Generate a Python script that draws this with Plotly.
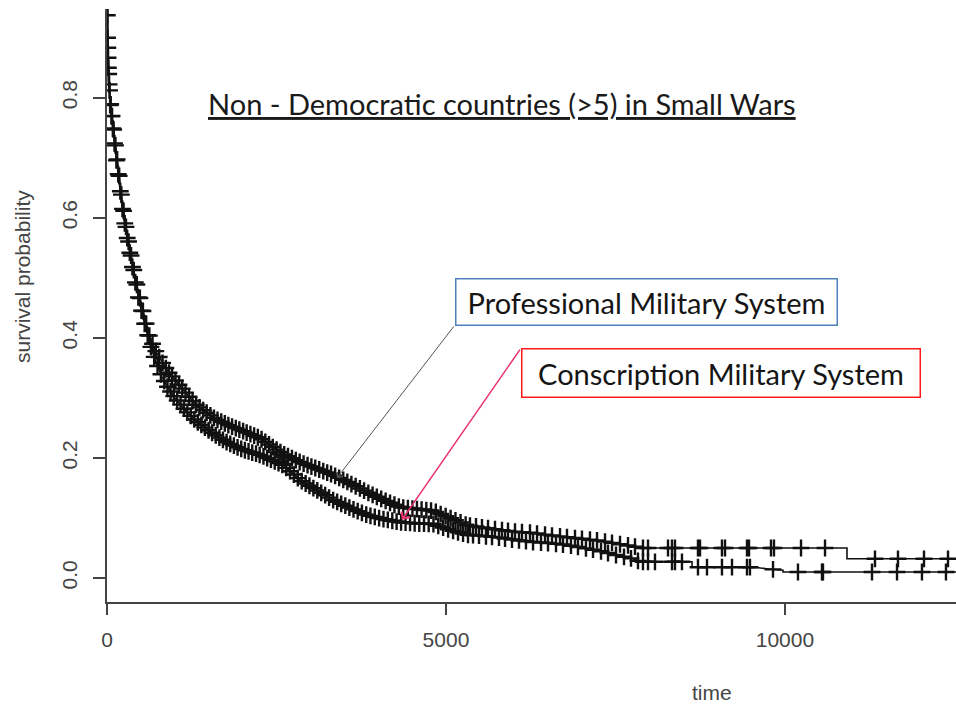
import numpy as np
import plotly.graph_objects as go

# ---------------- data ----------------
# Kaplan-Meier curves: vertices (time, survival probability); repeated times are vertical steps
prof_t = [0, 8, 20, 44, 90, 133, 180, 221, 280, 339, 400, 457, 540, 634, 720, 811, 900, 1003, 1150,
          1298, 1450, 1600, 1785, 2000, 2257, 2420, 2596, 2720, 2847, 3100, 3334, 3580, 3835, 4080,
          4322, 4560, 4808, 5060, 5310, 5550, 5797, 6040, 6283, 6540, 6785, 7030, 7272, 7520, 7758,
          7862, 10915, 10915, 12600]
prof_s = [1.0, 0.90, 0.85, 0.80, 0.755, 0.713, 0.67, 0.63, 0.585, 0.547, 0.51, 0.48, 0.44, 0.40, 0.378,
          0.36, 0.344, 0.33, 0.31, 0.29, 0.277, 0.265, 0.255, 0.245, 0.233, 0.22, 0.207, 0.20, 0.193,
          0.182, 0.172, 0.158, 0.143, 0.13, 0.118, 0.115, 0.112, 0.10, 0.088, 0.084, 0.08, 0.077,
          0.075, 0.071, 0.068, 0.065, 0.062, 0.057, 0.053, 0.05, 0.05, 0.032, 0.032]

cons_t = [0, 8, 20, 44, 90, 133, 180, 221, 280, 339, 400, 457, 540, 634, 720, 811, 900, 1003, 1150,
          1298, 1450, 1600, 1785, 2000, 2257, 2420, 2596, 2720, 2847, 3100, 3334, 3580, 3835, 4080,
          4322, 4560, 4808, 5060, 5310, 5550, 5797, 6040, 6283, 6540, 6785, 7030, 7272, 7520, 7758,
          7862, 8629, 8629, 9558, 9750, 9971, 9971, 12600]
cons_s = [1.0, 0.90, 0.85, 0.79, 0.745, 0.70, 0.66, 0.62, 0.578, 0.54, 0.503, 0.47, 0.43, 0.39, 0.36,
          0.335, 0.317, 0.30, 0.28, 0.263, 0.25, 0.238, 0.225, 0.214, 0.205, 0.197, 0.188, 0.176,
          0.163, 0.146, 0.13, 0.117, 0.105, 0.098, 0.093, 0.091, 0.09, 0.08, 0.072, 0.07, 0.067,
          0.063, 0.06, 0.058, 0.055, 0.05, 0.045, 0.038, 0.032, 0.027, 0.027, 0.018, 0.018, 0.015,
          0.013, 0.01, 0.01]

# censoring times ("+" marks)
prof_cens = [3, 8, 16, 25, 38, 55, 75, 98, 125, 150, 180, 212, 245, 280, 318, 355, 395, 440, 485, 530,
             578, 625, 672, 720, 770, 820,
             868, 915, 960, 1010, 1062, 1110, 1158, 1210, 1262, 1315, 1365, 1418, 1470, 1525, 1578,
             1630, 1685, 1738, 1790, 1845, 1900, 1952, 2008, 2060, 2115, 2170, 2225, 2280, 2335,
             2390, 2445, 2502, 2558, 2614, 2670, 2728, 2785, 2842, 2900, 2958, 3015, 3072, 3130,
             3190, 3248, 3305, 3365, 3425, 3485, 3545, 3605, 3668, 3730, 3792, 3855, 3918, 3980,
             4045, 4110, 4175, 4240, 4305, 4370, 4438, 4505, 4572, 4640, 4710, 4780, 4850, 4922,
             4995, 5068, 5140, 5215, 5290,
             5354, 5443, 5531, 5620, 5723, 5826, 5915, 6018, 6121, 6239, 6343, 6461, 6564, 6682,
             6785, 6903, 7006, 7124, 7228, 7346, 7449, 7567, 7685, 7788,
             7906, 7980, 8275, 8334, 8378, 8717, 8747, 9071, 9116, 9440, 9470, 9794, 9838,
             10237, 10591, 11328, 11667, 12051, 12405]

cons_cens = [5, 12, 20, 31, 46, 65, 86, 110, 138, 165, 196, 228, 262, 298, 336, 375, 418, 462, 508,
             555, 600, 648, 696, 745, 795, 845,
             892, 938, 985, 1035, 1085, 1135, 1185, 1236, 1288, 1340, 1392, 1444, 1498, 1550, 1604,
             1658, 1710, 1764, 1818, 1872, 1926, 1980, 2034, 2088, 2142, 2198, 2252, 2308, 2362,
             2418, 2474, 2530, 2586, 2642, 2700, 2756, 2814, 2872, 2930, 2986, 3044, 3102, 3160,
             3218, 3276, 3336, 3395, 3455, 3515, 3575, 3636, 3698, 3760, 3824, 3886, 3950, 4014,
             4078, 4142, 4208, 4272, 4338, 4404, 4470, 4538, 4606, 4676, 4745, 4815, 4886, 4958,
             5032, 5105, 5178, 5252, 5325,
             5399, 5487, 5590, 5679, 5782, 5871, 5974, 6077, 6180, 6284, 6402, 6505, 6623, 6726,
             6844, 6947, 7065, 7169, 7287, 7390, 7508, 7626, 7729, 7832,
             7906, 7980, 8083, 8334, 8378, 8481, 8717, 8850, 9071, 9219, 9440, 9484, 9824,
             10192, 10546, 10561, 11284, 11653, 12021, 12375]

x_ticks = [0, 5000, 10000]
x_tick_text = ["0", "5000", "10000"]
y_ticks = [0.0, 0.2, 0.4, 0.6, 0.8]
y_tick_text = ["0.0", "0.2", "0.4", "0.6", "0.8"]

title_text = "Non - Democratic countries (>5) in Small Wars"
prof_label = "Professional Military System"
cons_label = "Conscription Military System"

# ---------------- layout geometry ----------------
W, H = 956, 704
ML, MR, MT, MB = 107, 0, 9, 102
X_RANGE = [0, 12523]
Y_RANGE = [-0.04, 0.948]


def px_x(px):
    return (px - ML) / (W - ML - MR)


def px_y(py):
    return (H - MB - py) / (H - MB - MT)


def curve_value(ts, ss, q):
    # value of the drawn curve at the censoring times
    ts = np.asarray(ts, dtype=float)
    ss = np.asarray(ss, dtype=float)
    q = np.asarray(q, dtype=float)
    idx = np.searchsorted(ts, q, side="right") - 1
    idx = np.clip(idx, 0, len(ts) - 2)
    t0, t1 = ts[idx], ts[idx + 1]
    s0, s1 = ss[idx], ss[idx + 1]
    frac = np.where(t1 > t0, (q - t0) / np.where(t1 > t0, t1 - t0, 1), 0.0)
    return s0 + frac * (s1 - s0)


fig = go.Figure()
for ts, ss, cens in [(prof_t, prof_s, prof_cens), (cons_t, cons_s, cons_cens)]:
    fig.add_trace(go.Scatter(x=ts, y=ss, mode="lines", line=dict(color="#111111", width=1.6),
                             showlegend=False, hoverinfo="skip"))
    fig.add_trace(go.Scatter(x=cens, y=curve_value(ts, ss, cens), mode="markers",
                             marker=dict(symbol="cross-thin", size=12, color="#111111",
                                         line=dict(color="#111111", width=2.4)),
                             showlegend=False, hoverinfo="skip"))

axis_font = dict(family="Liberation Sans, Arial, sans-serif", size=21, color="#454545")
box_font = dict(family="Lato, Open Sans, sans-serif", size=29, color="#151515")

fig.update_layout(
    width=W, height=H,
    margin=dict(l=ML, r=MR, t=MT, b=MB),
    paper_bgcolor="white", plot_bgcolor="white",
    xaxis=dict(range=X_RANGE, showgrid=False, zeroline=False, showline=True, linecolor="#444444",
               linewidth=1.5, ticks="outside", ticklen=11, tickwidth=1.5, tickcolor="#444444",
               tickvals=x_ticks, ticktext=x_tick_text, tickfont=axis_font, ticklabelstandoff=7),
    yaxis=dict(range=Y_RANGE, showgrid=False, zeroline=False, showline=True, linecolor="#444444",
               linewidth=1.5, ticks="outside", ticklen=12, tickwidth=1.5, tickcolor="#444444",
               tickvals=y_ticks, ticktext=y_tick_text, tickfont=axis_font, tickangle=-90,
               ticklabelstandoff=8),
    annotations=[
        dict(xref="paper", yref="paper", x=px_x(502), y=px_y(103), text="<u>" + title_text + "</u>",
             showarrow=False, font=dict(family="Lato, Open Sans, sans-serif", size=29, color="#1a1a1a"),
             xanchor="center", yanchor="middle"),
        dict(xref="paper", yref="paper", x=px_x(712), y=px_y(692), text="time", showarrow=False,
             font=axis_font, xanchor="center", yanchor="middle"),
        dict(xref="paper", yref="paper", x=px_x(22), y=px_y(277), text="survival probability",
             showarrow=False, font=axis_font, textangle=-90, xanchor="center", yanchor="middle"),
        # arrows
        dict(xref="x", yref="y", x=3393, y=0.1667, axref="x", ayref="y", ax=5133, ay=0.4217, text="",
             showarrow=True, arrowhead=4, arrowsize=1.4, arrowwidth=1, arrowcolor="#555555"),
        dict(xref="x", yref="y", x=4351, y=0.097, axref="x", ayref="y", ax=6107, ay=0.383, text="",
             showarrow=True, arrowhead=4, arrowsize=1.3, arrowwidth=1.5, arrowcolor="#e8336b"),
        # label boxes
        dict(xref="paper", yref="paper", x=px_x(646.5), y=px_y(301.5), text=prof_label, showarrow=False,
             font=box_font, width=380, height=45, borderpad=0, borderwidth=1.5, bordercolor="#4f81bd",
             bgcolor="white", xanchor="center", yanchor="middle"),
        dict(xref="paper", yref="paper", x=px_x(721), y=px_y(372.5), text=cons_label, showarrow=False,
             font=box_font, width=397, height=47, borderpad=0, borderwidth=1.5, bordercolor="#ff1a1a",
             bgcolor="white", xanchor="center", yanchor="middle"),
    ],
)

fig.write_html("out.html", config={"displayModeBar": False},
               post_script="document.body.style.margin='0';document.body.style.padding='0';")
